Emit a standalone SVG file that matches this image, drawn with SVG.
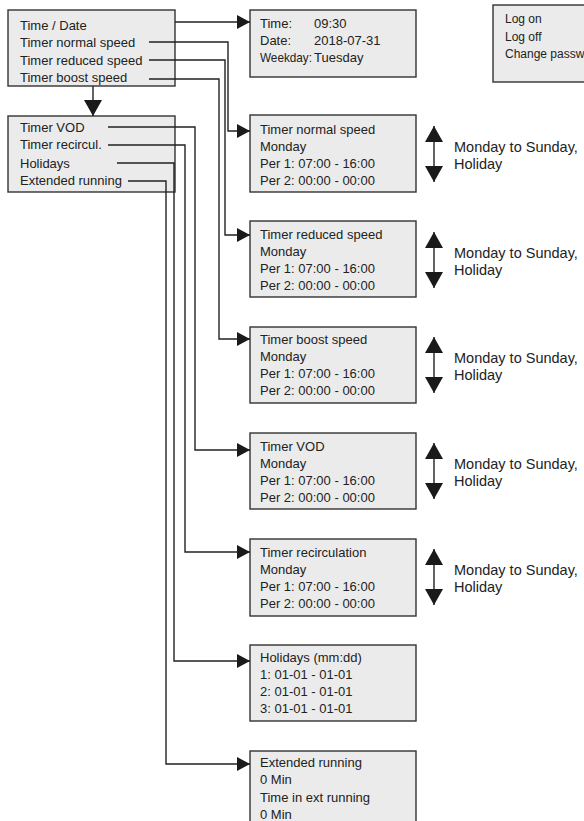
<svg xmlns="http://www.w3.org/2000/svg" width="584" height="821" viewBox="0 0 584 821">
<defs>
<style>
.box{fill:#ebebeb;stroke:#333;stroke-width:1.4}
text{font-family:"Liberation Sans",Arial,sans-serif;font-size:13px;fill:#222}
.lbl{font-size:14.5px}
.sm{font-size:12px}
.c{fill:none;stroke:#222;stroke-width:1.4}
</style>
<marker id="ah" markerUnits="userSpaceOnUse" markerWidth="14" markerHeight="16" refX="13" refY="7" orient="auto"><path d="M0,0 L13,7 L0,14 z" fill="#1a1a1a"/></marker>
<marker id="ab" markerUnits="userSpaceOnUse" markerWidth="20" markerHeight="20" refX="16" refY="9" orient="auto-start-reverse"><path d="M0,0 L16,9 L0,18 z" fill="#1a1a1a"/></marker>
</defs>
<rect width="584" height="821" fill="#fff"/>
<g id="menu1">
<rect class="box" x="8" y="10" width="167" height="76"/>
<text x="20" y="30">Time / Date</text>
<text x="20" y="47">Timer normal speed</text>
<text x="20" y="64.5">Timer reduced speed</text>
<text x="20" y="82">Timer boost speed</text>
</g>
<g id="menu2">
<rect class="box" x="8" y="116" width="167" height="76"/>
<text x="20" y="131.5">Timer VOD</text>
<text x="20" y="149">Timer recircul.</text>
<text x="20" y="167.5">Holidays</text>
<text x="20" y="185">Extended running</text>
</g>
<g id="timedate">
<rect class="box" x="250" y="10" width="166" height="67"/>
<text x="260" y="28">Time:</text><text x="314" y="28">09:30</text>
<text x="260" y="45">Date:</text><text x="314" y="45">2018-07-31</text>
<text x="260" y="62" textLength="52" lengthAdjust="spacingAndGlyphs">Weekday:</text><text x="314" y="62">Tuesday</text>
</g>
<g id="login">
<rect class="box" x="493" y="5" width="110" height="77"/>
<text class="sm" x="505" y="23">Log on</text>
<text class="sm" x="505" y="41">Log off</text>
<text class="sm" x="505" y="58">Change passw</text>
</g>
<g id="timer-normal">
<rect class="box" x="250" y="115" width="166" height="77"/>
<text x="260" y="134">Timer normal speed</text>
<text x="260" y="151">Monday</text>
<text x="260" y="168">Per 1: 07:00 - 16:00</text>
<text x="260" y="185">Per 2: 00:00 - 00:00</text>
<text class="lbl" x="454" y="152">Monday to Sunday,</text>
<text class="lbl" x="454" y="169">Holiday</text>
</g>
<g id="timer-reduced">
<rect class="box" x="250" y="221" width="166" height="76"/>
<text x="260" y="239">Timer reduced speed</text>
<text x="260" y="256">Monday</text>
<text x="260" y="273">Per 1: 07:00 - 16:00</text>
<text x="260" y="290">Per 2: 00:00 - 00:00</text>
<text class="lbl" x="454" y="258">Monday to Sunday,</text>
<text class="lbl" x="454" y="275">Holiday</text>
</g>
<g id="timer-boost">
<rect class="box" x="250" y="327" width="166" height="76"/>
<text x="260" y="344">Timer boost speed</text>
<text x="260" y="361">Monday</text>
<text x="260" y="378">Per 1: 07:00 - 16:00</text>
<text x="260" y="395">Per 2: 00:00 - 00:00</text>
<text class="lbl" x="454" y="363">Monday to Sunday,</text>
<text class="lbl" x="454" y="380">Holiday</text>
</g>
<g id="timer-vod">
<rect class="box" x="250" y="433" width="166" height="76"/>
<text x="260" y="451">Timer VOD</text>
<text x="260" y="468">Monday</text>
<text x="260" y="485">Per 1: 07:00 - 16:00</text>
<text x="260" y="502">Per 2: 00:00 - 00:00</text>
<text class="lbl" x="454" y="469">Monday to Sunday,</text>
<text class="lbl" x="454" y="486">Holiday</text>
</g>
<g id="timer-recirc">
<rect class="box" x="250" y="539" width="166" height="77"/>
<text x="260" y="557">Timer recirculation</text>
<text x="260" y="574">Monday</text>
<text x="260" y="591">Per 1: 07:00 - 16:00</text>
<text x="260" y="608">Per 2: 00:00 - 00:00</text>
<text class="lbl" x="454" y="575">Monday to Sunday,</text>
<text class="lbl" x="454" y="592">Holiday</text>
</g>
<g id="holidays">
<rect class="box" x="250" y="645" width="166" height="76"/>
<text x="260" y="662">Holidays (mm:dd)</text>
<text x="260" y="679">1: 01-01 - 01-01</text>
<text x="260" y="696">2: 01-01 - 01-01</text>
<text x="260" y="713">3: 01-01 - 01-01</text>
</g>
<g id="extended">
<rect class="box" x="250" y="751" width="166" height="80"/>
<text x="260" y="767">Extended running</text>
<text x="260" y="784">0 Min</text>
<text x="260" y="802">Time in ext running</text>
<text x="260" y="819">0 Min</text>
</g>
<g id="connectors">
<path class="c" d="M175,22 H250" marker-end="url(#ah)"/>
<path class="c" d="M149,42 H228 V131 H250" marker-end="url(#ah)"/>
<path class="c" d="M149,60 H225 V235 H250" marker-end="url(#ah)"/>
<path class="c" d="M149,79 H219 V339 H250" marker-end="url(#ah)"/>
<path class="c" d="M108,127 H195 V450 H250" marker-end="url(#ah)"/>
<path class="c" d="M108,145 H185 V552 H250" marker-end="url(#ah)"/>
<path class="c" d="M117,163 H174 V661 H250" marker-end="url(#ah)"/>
<path class="c" d="M128,181 H166 V764 H250" marker-end="url(#ah)"/>
<path class="c" d="M93,86 V116" marker-end="url(#ab)"/>
<path class="c" d="M434,126 V182" marker-start="url(#ab)" marker-end="url(#ab)"/>
<path class="c" d="M434,232 V288" marker-start="url(#ab)" marker-end="url(#ab)"/>
<path class="c" d="M434,337 V393" marker-start="url(#ab)" marker-end="url(#ab)"/>
<path class="c" d="M434,443 V499" marker-start="url(#ab)" marker-end="url(#ab)"/>
<path class="c" d="M434,549 V605" marker-start="url(#ab)" marker-end="url(#ab)"/>
</g>
</svg>
